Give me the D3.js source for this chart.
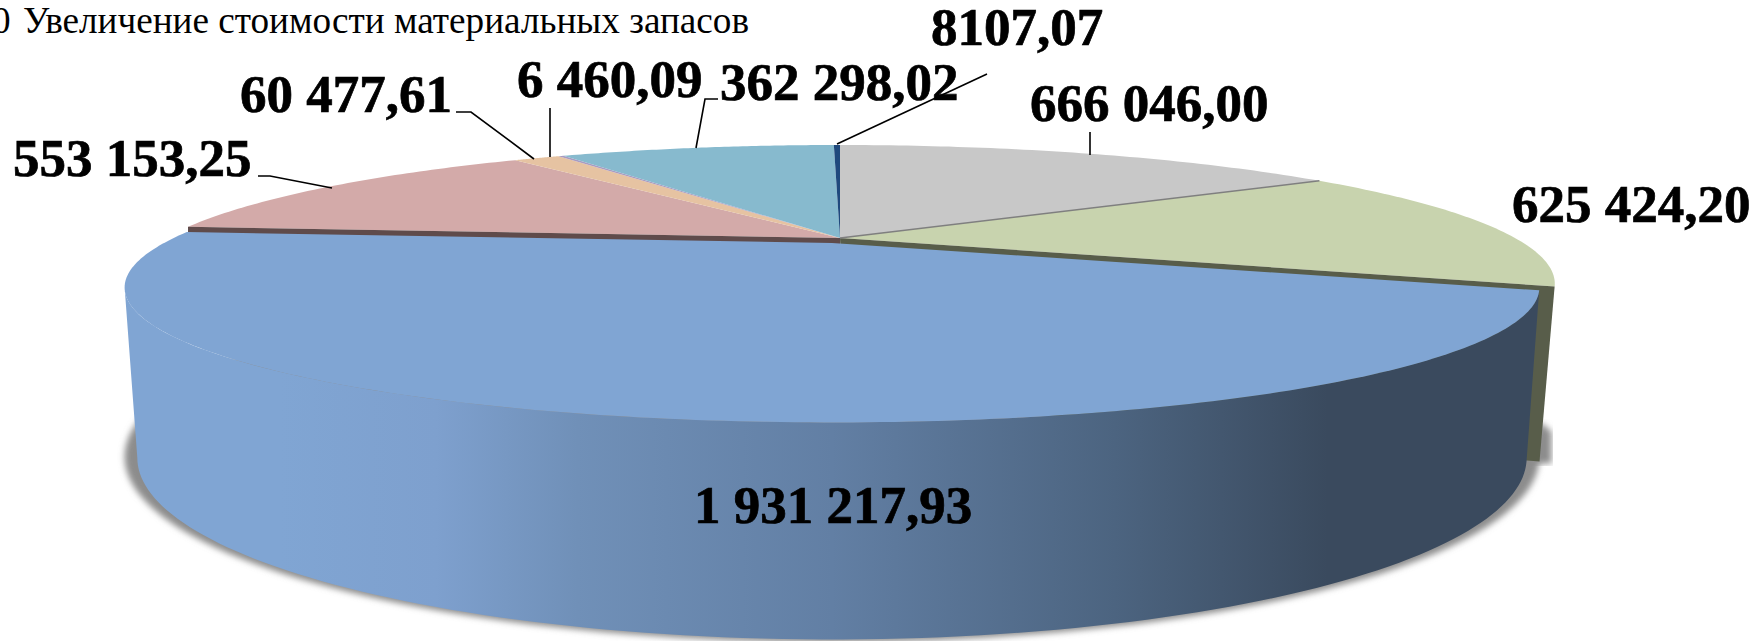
<!DOCTYPE html>
<html><head><meta charset="utf-8">
<script src="https://cdn.jsdelivr.net/npm/d3@7"></script>
<style>html,body{margin:0;padding:0;background:#fff;overflow:hidden}svg{display:block}</style>
</head><body><svg id="c" width="1756" height="641"></svg>
<script>
const labels = ["666 046,00","625 424,20","1 931 217,93","553 153,25","60 477,61","6 460,09","362 298,02","8107,07"];
const values = [666046.00,625424.20,1931217.93,553153.25,60477.61,6460.09,362298.02,8107.07];
const colors = ["#c8c8c8","#c8d3ae","#80a5d3","#d3aaa9","#e6c3a2","#a99bc0","#87bace","#1f497d"];
const captionZero = "0";
const caption = "Увеличение стоимости материальных запасов";
const labelPos = [[1030,121],[1512,222],[694,523],[13,176],[240,112],[517,97],[720,100],[931,45]];
const leaders = [
 [[1090,132],[1090,155]],
 [],
 [],
 [[258,176],[270,176],[332,188]],
 [[456,112],[471,112],[534,159]],
 [[550,108],[550,157]],
 [[718,99],[705,99],[696,148]],
 [[987,74],[837,144]]
];
const wallStops = [[0,"#80a5d3"],[.11,"#80a5d3"],[.22,"#7ea0ce"],[.32,"#7090b8"],[.5,"#627fa4"],[.7,"#4c6480"],[.85,"#3a4a5e"],[1,"#3a4a5e"]];

const svg = d3.select("#c");
const defs = svg.append("defs");
defs.append("filter").attr("id","blur").attr("x","-5%").attr("y","-5%").attr("width","110%").attr("height","110%")
  .append("feGaussianBlur").attr("stdDeviation",3);
const g = defs.append("linearGradient").attr("id","wall").attr("gradientUnits","userSpaceOnUse")
  .attr("x1",124).attr("x2",1540).attr("y1",0).attr("y2",0);
wallStops.forEach(s=>g.append("stop").attr("offset",s[0]).attr("stop-color",s[1]));

const pieGen = d3.pie().sort(null).value(d=>d).startAngle(0).endAngle(2*Math.PI);
const arcs = pieGen(values);
const K = 0.329;
const disc = (x0,y0,a,b)=>t=>{const u=Math.sin(t),v=-Math.cos(t),w=1-K*v;return [x0+a*u/w,y0+b*v/w];};
const backTop = disc(840,238,675,123.6), blueTop = disc(832,243,668,120.4),
      blueBot = disc(832,398,656,162), backBot = disc(845,398,656,162), shadow = disc(832,396,668,165);
const line = d3.line();
const sweep = (f,a,b,n=120)=>d3.range(n+1).map(i=>f(a+(b-a)*i/n));
const LEFT = Math.PI*2-Math.acos(-K);

svg.append("path").attr("d",line(sweep(shadow,0,2*Math.PI,240))+"Z").attr("fill","#8c8c8c").attr("filter","url(#blur)");
const blue = arcs[2], green = arcs[1], pink = arcs[3];
const tipB = backBot(green.endAngle);
svg.append("path").attr("d",line([[tipB[0],tipB[1]-40],[tipB[0]+12,tipB[1]-30],[tipB[0]+12,tipB[1]+2],[tipB[0]-10,tipB[1]+2]])+"Z")
  .attr("fill","#8c8c8c").attr("filter","url(#blur)");

arcs.forEach((d,i)=>{ if(i===2) return;
  svg.append("path").attr("d",line([[840,238],...sweep(backTop,d.startAngle,d.endAngle,60)])+"Z")
    .attr("fill",colors[i]);
});
svg.append("path").attr("d",line([[840,238],backTop(green.endAngle),backBot(green.endAngle),[845,398]])+"Z").attr("fill","#585d4a");
svg.append("path").attr("d",line([[840,238],backTop(pink.startAngle),[backTop(pink.startAngle)[0],backTop(pink.startAngle)[1]+12],[840,250]])+"Z").attr("fill","#5f4b4b");
svg.append("path").attr("d",line([[840,238],backTop(arcs[0].endAngle)])).attr("stroke","#7f7f7f").attr("stroke-width",1.5).attr("fill","none");

svg.append("path").attr("d",line([...sweep(blueTop,blue.startAngle,LEFT),...sweep(blueBot,LEFT,blue.startAngle)])+"Z").attr("fill","url(#wall)");
svg.append("path").attr("d",line([[832,243],...sweep(blueTop,blue.startAngle,blue.endAngle,200)])+"Z").attr("fill",colors[2]);

leaders.forEach(p=>{ if(p.length) svg.append("path").attr("d",line(p)).attr("fill","none").attr("stroke","#000").attr("stroke-width",1.6);});
svg.selectAll("text.l").data(labels).join("text").attr("class","l")
  .attr("x",(d,i)=>labelPos[i][0]).attr("y",(d,i)=>labelPos[i][1])
  .attr("font-family","'Liberation Serif'").attr("font-weight","bold").attr("font-size",53)
  .attr("stroke","#000").attr("stroke-width",0.7).text(d=>d);
const cap = svg.append("g").attr("font-family","'Liberation Serif'").attr("font-size",37.2);
cap.append("text").attr("x",-8).attr("y",33).text(captionZero);
cap.append("text").attr("x",23).attr("y",33).text(caption);
</script></body></html>
